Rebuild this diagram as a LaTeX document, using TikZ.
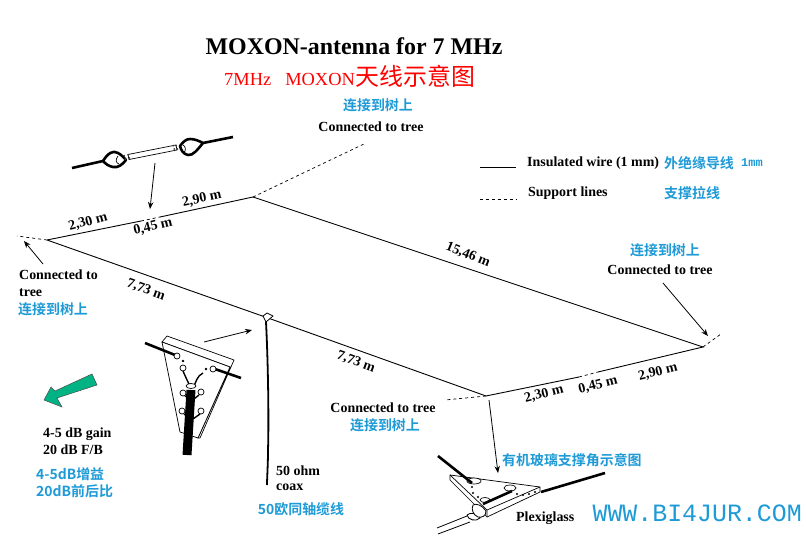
\documentclass[tikz,border=0pt]{standalone}
\usepackage{fontspec}
\setmainfont{Liberation Serif}
\newfontfamily\cjkb[BoldFont={Noto Sans CJK SC Bold}]{Noto Sans CJK SC}
\newfontfamily\monof{Liberation Mono}
\definecolor{cblue}{HTML}{1E9AD6}
\definecolor{cgreen}{HTML}{00B384}
\usetikzlibrary{arrows.meta,shapes.geometric}
\tikzset{
 lab/.style={font=\bfseries\fontsize{14}{14}\selectfont,inner sep=0pt},
 cn/.style={font=\fontsize{14}{15}\selectfont\cjkb\bfseries,text=cblue,inner sep=0pt},
 wire/.style={line width=0.9pt},
 sup/.style={line width=0.7pt,dash pattern=on 3pt off 3pt},
 thick wire/.style={line width=2.6pt},
 pt/.style={-{Stealth[length=7pt,width=5.5pt]},line width=0.8pt},
 thin part/.style={line width=0.7pt},
 hole/.style={draw,fill=white,line width=0.7pt},
}
\begin{document}
\begin{tikzpicture}[x=1bp,y=-1bp]
\useasboundingbox (0,0) rectangle (806,541);
% corners
\coordinate (L) at (47,240);
\coordinate (T) at (253,197);
\coordinate (R) at (703,347);
\coordinate (B) at (486,396);
\coordinate (F) at (268,318);
\coordinate (g1) at (141,221);
\coordinate (g2) at (160,217);
\coordinate (g3) at (579,377);
\coordinate (g4) at (598,372);
\coordinate (sL) at (17,236);
\coordinate (sT) at (366,143);
\coordinate (sR) at (721,334);
\coordinate (sB) at (445,400);
\draw[wire] (L)--(g1) (g2)--(T)--(R)--(g4) (g3)--(B)--(F)--(L);
\draw[sup] (L)--(sL) (T)--(sT) (R)--(sR) (B)--(sB) (g1)--(g2) (g3)--(g4);
% title
\node[font=\bfseries\fontsize{24}{24}\selectfont,inner sep=0pt] (title) at (354,46) {MOXON-antenna for 7 MHz};
\node[font=\fontsize{18.5}{20}\selectfont,text=red,inner sep=0pt,anchor=west] (sub) at (224,76) {7MHz\hspace{14bp}MOXON\hspace{1bp}{\cjkb\fontsize{24}{24}\selectfont 天线示意图}};
% top labels
\node[cn] (c1) at (378,105) {连接到树上};
\node[lab] (e1) at (371,127) {Connected to tree};
% legend
\coordinate (l1a) at (480,167); \coordinate (l1b) at (516,167);
\coordinate (l2a) at (480,199); \coordinate (l2b) at (516,199);
\draw[wire] (l1a)--(l1b);
\draw[sup] (l2a)--(l2b);
\node[lab,anchor=west] (le1) at (527,163) {Insulated wire (1 mm)};
\node[cn,anchor=west] (lc1) at (664,163) {外绝缘导线};
\node[anchor=west,inner sep=0pt,text=cblue,font=\monof\bfseries\fontsize{12}{12}\selectfont] (lc1b) at (741,163) {1mm};
\node[lab,anchor=west] (le2) at (528,193) {Support lines};
\node[cn,anchor=west] (lc2) at (664,193) {支撑拉线};
% length labels
\node[lab,rotate=15] (a1) at (88,222) {2,30 m};
\node[lab,rotate=13] (a2) at (153,227) {0,45 m};
\node[lab,rotate=12] (a3) at (202,199) {2,90 m};
\node[lab,rotate=-22] (a4) at (468,255) {15,46 m};
\node[lab,rotate=-20] (a5) at (146,290) {7,73 m};
\node[lab,rotate=-20] (a6) at (356,362) {7,73 m};
\node[lab,rotate=14] (a7) at (544,394) {2,30 m};
\node[lab,rotate=14] (a8) at (598,385) {0,45 m};
\node[lab,rotate=14] (a9) at (658,372) {2,90 m};
% right tree
\node[cn] (c2) at (665,250) {连接到树上};
\node[lab] (e2) at (660,270) {Connected to tree};
\draw[pt] (663,283)--(708,336);
% left tree
\node[lab,align=left,anchor=north west,font=\bfseries\fontsize{14}{17}\selectfont] (e3) at (19,270) {Connected to\\tree};
\node[cn,anchor=west] (c3) at (18,309) {连接到树上};
\draw[pt] (43,264)--(24,241);
% bottom centre tree
\node[lab] (e4) at (383,408) {Connected to tree};
\node[cn] (c4) at (385,425) {连接到树上};
% gain
\draw[draw=black!70,fill=cgreen,line width=0.5pt] (44,400)--(51,387)--(55,391)--(92,374)--(97,385)--(57,398)--(62,407)--cycle;
\node[lab,anchor=west] (g1t) at (43,434) {4-5 dB gain};
\node[lab,anchor=west] (g2t) at (43,450) {20 dB F/B};
\node[cn,anchor=west] (g1c) at (36,474) {4-5dB增益};
\node[cn,anchor=west] (g2c) at (36,491) {20dB前后比};
% coax label
\node[lab,anchor=west] (co1) at (276,471) {50 ohm};
\node[lab,anchor=west] (co2) at (276,487) {coax};
\node[cn] (co3) at (301,509) {50欧同轴缆线};
% plexi
\node[cn,anchor=west] (p1) at (502,460) {有机玻璃支撑角示意图};
\node[lab,anchor=west] (p2) at (516,518) {Plexiglass};
\node[font=\monof\fontsize{25}{25}\selectfont,text=cblue,inner sep=0pt,anchor=east] (web) at (802,513) {WWW.BI4JUR.COM};
% top insulator
\coordinate (i0) at (155,163); \coordinate (i1) at (150,209);
\draw[pt] (i0)--(i1);
\draw[thick wire] (72,168)--(103,161);
\draw[thick wire] (203,143)--(233,137);
\draw[line width=2.6pt,line join=round] (103,161) .. controls (108,153) and (113,150) .. (118,153) .. controls (122,155) and (125,159) .. (126,160) .. controls (122,165) and (118,168) .. (113,167) .. controls (108,166) and (106,164) .. (103,161);
\draw[line width=2.6pt,line join=round] (203,143) .. controls (198,149) and (193,156) .. (188,155) .. controls (183,154) and (181,150) .. (180,146) .. controls (183,142) and (186,139) .. (190,139) .. controls (195,139) and (199,141) .. (203,143);
\draw[thin part] (118,156) .. controls (115,160) and (116,163) .. (119,164) (183,145) .. controls (186,147) and (186,150) .. (184,153);
\draw[thin part,fill=white] (128,154.5)--(176,145)--(177,150)--(129,159.5)--cycle;
\draw[line width=1.5pt,black!75,dotted] (124,155)--(126,161) (128,154)--(130,160) (173,145)--(175,151) (176,145)--(178,151);
% small plate
\draw[thin part,fill=white,line join=round] (162,342)--(167,336)--(234,360)--(200,438)--(198,438)--(230,367)--cycle;
\draw[thin part,fill=white,line join=round] (162,342)--(230,367)--(198,438)--(180,432)--cycle;
\draw[pt] (204,342)--(252,330);
\draw[thick wire] (145,343)--(175,355);
\draw[thick wire] (212,368)--(241,378);
\foreach \p in {(177,356),(183,368),(213,369),(183,393),(201,392),(182,411),(201,411)} \node[hole,circle,inner sep=0pt,minimum size=6bp] at \p {};
\draw[line width=1.4pt] (183,371) .. controls (186,378) and (188,382) .. (190,386) (203,373) .. controls (197,376) and (196,382) .. (194,386) (185,396) -- (190,399) (199,395)--(194,399) (184,414)--(188,417) (200,414)--(193,419);
\fill (183,361) circle (1.3bp) (206,369) circle (1.3bp);
\draw[line width=9pt] (191,390)--(187,455);
\node[hole,ellipse,inner sep=0pt,minimum width=10bp,minimum height=5bp] at (191,386) {};
% feed
\draw[line width=0.8pt,fill=white,line join=round] (263,316)--(267,313)--(273,316)--(266,322)--cycle;
\draw[line width=1.8pt] (266,322) .. controls (268,360) and (269,420) .. (268,450) .. controls (268,465) and (267,478) .. (267,485);
% lower plate
\draw[pt] (489,400)--(498,473);
\draw[line width=0.7pt,fill=white,line join=round] (450,475)--(540,487)--(540,492)--(487,517)--(450,480)--cycle;
\draw[line width=0.7pt] (450,475)--(487,510)--(540,487) (487,510)--(487,517);
\node[hole,ellipse,inner sep=0pt,minimum width=14bp,minimum height=6bp] at (474,481) {};
\node[hole,ellipse,inner sep=0pt,minimum width=12bp,minimum height=6bp] at (510,488) {};
\node[hole,ellipse,inner sep=0pt,minimum width=10bp,minimum height=5bp] at (485,500) {};
\draw[thick wire] (438,456)--(472,483);
\draw[thick wire] (605,473)--(541,492);
\draw[thick wire] (512,491)--(483,504);
\fill (472,487) circle (1.2bp) (473,493) circle (1.2bp) (478,497) circle (1.2bp) (517,494) circle (1.2bp) (523,495) circle (1.2bp) (529,494) circle (1.2bp) (535,492) circle (1.2bp);
\draw[line width=0.8pt] (437,528)--(467,516) (438,534)--(470,522);
\draw[line width=0.8pt,fill=white] (467,515) .. controls (470,512) and (478,513) .. (480,518) .. controls (476,522) and (468,520) .. (467,515);
\draw[line width=0.8pt,fill=white] (473,505) .. controls (476,503) and (482,505) .. (486,511) .. controls (486,516) and (482,518) .. (478,517) .. controls (473,515) and (471,509) .. (473,505);
\end{tikzpicture}
\end{document}
